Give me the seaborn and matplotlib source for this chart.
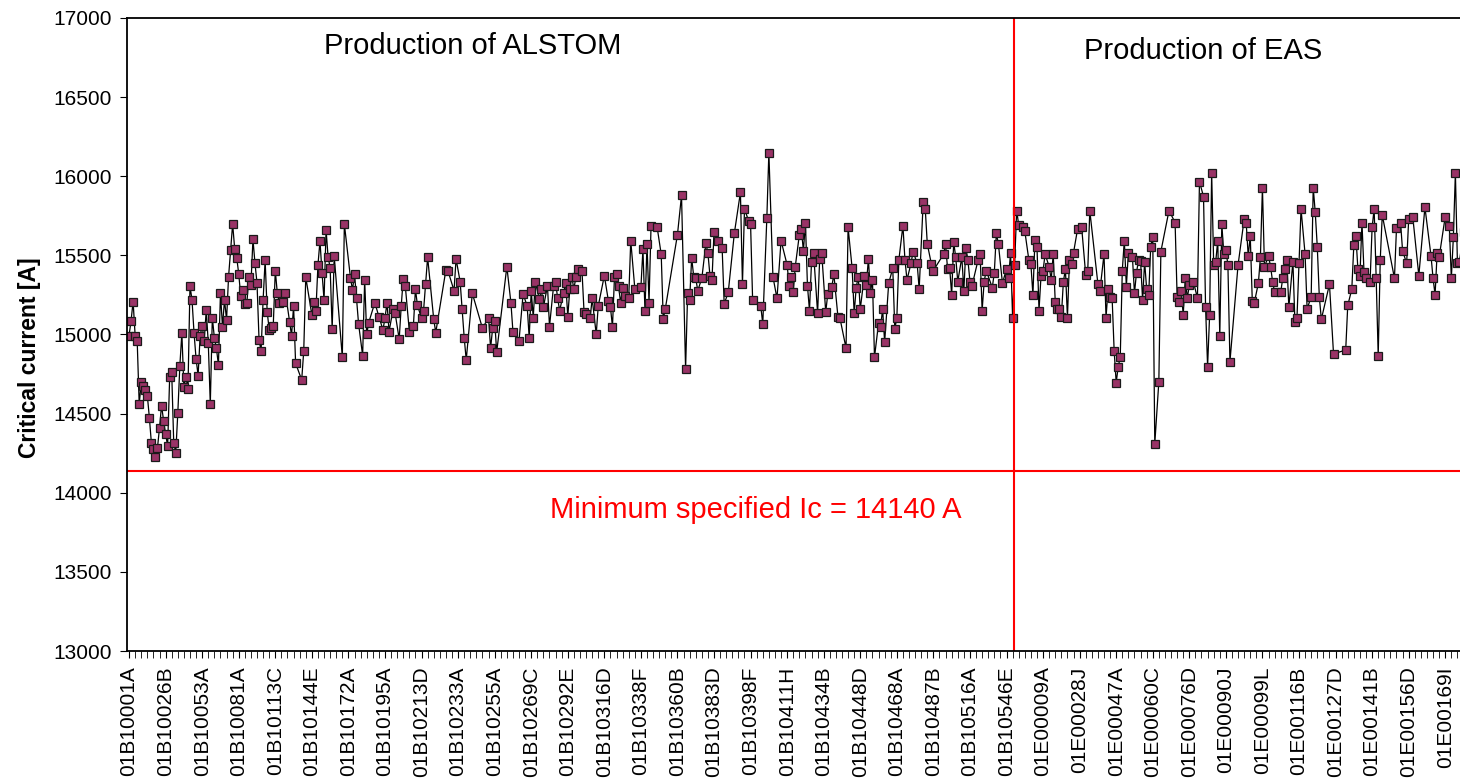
import numpy as np
import pandas as pd
import seaborn as sns
import matplotlib.pyplot as plt

# critical current [A] of each measured unit length, read off the chart,
# with its slot number on the category axis (empty slots are skipped and
# the line joins across them, as in the original spreadsheet chart)
alstom_ic = [
    14993, 15088, 15208, 14993, 14961, 14559, 14698, 14675, 14646, 14614,
    14475, 14313, 14275, 14224, 14285, 14410, 14551, 14456, 14370, 14296,
    14734, 14761, 14313, 14254, 14502, 14801, 15008, 14667, 14734, 14654,
    15307, 15218, 15008, 14846, 14740, 14993, 15054, 14961, 15153, 14949,
    14559, 15107, 14980, 14913, 14808, 15260, 15050, 15218, 15092, 15366,
    15534, 15698, 15543, 15486, 15383, 15240, 15282, 15193, 15197, 15366,
    15313, 15602, 15450, 15324, 14966, 14894, 15218, 15471, 15145, 15029,
    15039, 15056, 15404, 15260, 15197, 15208, 15265, 15081, 14993, 15180,
    14818, 14713, 14894, 15362, 15124, 15208, 15151, 15439, 15591, 15391,
    15218, 15661, 15488, 15423, 15035, 15496,
    14856, 15698, 15359, 15281, 15383, 15229, 15067, 14867, 15345, 15001,
    15075, 15201, 15113, 15029, 15103, 15201, 15018, 15159, 15134, 14970,
    15180, 15353, 15307, 15018, 15056, 15286, 15183, 15103, 15151, 15317,
    15488, 15096, 15012, 15408, 15402, 15277, 15477, 15334, 15161, 14980,
    14839, 15260, 15039, 15107, 14913, 15039, 15088, 14888, 15429, 15201,
    15018, 14961, 15256, 15180, 14980, 15277, 15107, 15334, 15223, 15286,
    15172, 15307, 15050, 15307, 15334, 15229, 15151, 15265, 15324, 15113,
    15286, 15366,
    15285, 15365, 15412, 15401, 15144, 15129, 15102, 15228, 15001, 15180,
    15372, 15212, 15172, 15049, 15365, 15382, 15306, 15201, 15292, 15245,
    15228, 15593, 15290, 15298, 15538, 15150, 15572, 15201, 15688, 15677,
    15506, 15096, 15161, 15631, 15879, 14780, 15260, 15218, 15485, 15365,
    15355, 15277, 15355, 15576, 15513, 15372, 15344, 15650, 15593, 15544,
    15193, 15266, 15639, 15898, 15317, 15793, 15719, 15696, 15218, 15180,
    15066, 15734, 16149, 15365, 15228, 15593, 15439, 15306, 15365,
    15267, 15429, 15629, 15667, 15528, 15707, 15307, 15151, 15460, 15517,
    15134, 15475, 15517, 15141, 15256, 15303, 15380, 15113, 15103, 14913,
    15677, 15418, 15134, 15296, 15366, 15161, 15370, 15313, 15477, 15265,
    15345, 14856, 15071, 15046, 15161, 14951, 15324, 15418, 15035, 15103,
    15471, 15688, 15471, 15345, 15450, 15524, 15450, 15286, 15840, 15793,
    15572, 15446, 15404, 15507, 15570, 15412, 15423, 15250, 15583, 15488,
    15334, 15488, 15277, 15545, 15471, 15334, 15307, 15471, 15507, 15151,
    15334, 15404, 15296, 15391, 15639, 15572, 15324, 15414, 15355, 15517,
    15107]
alstom_slot = [
    0, 1, 2, 3, 4, 5, 6, 7, 8, 9,
    10, 11, 12, 13, 14, 15, 16, 17, 18, 19,
    20, 21, 22, 23, 24, 25, 26, 27, 28, 29,
    30, 31, 32, 33, 34, 35, 36, 37, 38, 39,
    40, 41, 42, 43, 44, 45, 46, 47, 48, 49,
    50, 51, 52, 53, 54, 55, 56, 57, 58, 59,
    60, 61, 62, 63, 64, 65, 66, 67, 68, 69,
    70, 71, 72, 73, 74, 76, 77, 79, 80, 81,
    82, 85, 86, 87, 90, 91, 92, 93, 94, 95,
    96, 97, 98, 99, 100, 101,
    105, 106, 109, 110, 111, 112, 113, 115, 116, 117,
    118, 121, 123, 125, 126, 127, 128, 130, 131, 133,
    134, 135, 136, 138, 140, 141, 142, 144, 145, 146,
    147, 150, 151, 156, 157, 160, 161, 163, 164, 165,
    166, 169, 174, 177, 178, 179, 180, 181, 186, 188,
    189, 192, 194, 196, 197, 198, 199, 200, 202, 203,
    204, 206, 207, 209, 210, 211, 212, 214, 215, 216,
    217, 218,
    219, 220, 221, 223, 224, 225, 227, 228, 230, 231,
    234, 236, 237, 238, 239, 240, 241, 242, 243, 244,
    246, 247, 249, 252, 253, 254, 255, 256, 257, 260,
    262, 263, 264, 270, 272, 274, 275, 276, 277, 278,
    279, 280, 282, 284, 285, 286, 287, 288, 290, 292,
    293, 295, 298, 301, 302, 303, 305, 306, 307, 311,
    312, 314, 315, 317, 319, 321, 324, 325, 326,
    327, 328, 330, 331, 332, 333, 334, 335, 336, 337,
    339, 340, 341, 343, 344, 346, 347, 349, 350, 353,
    354, 356, 357, 358, 359, 360, 362, 363, 364, 365,
    366, 367, 369, 370, 371, 372, 374, 376, 377, 378,
    379, 381, 382, 383, 385, 386, 388, 389, 391, 392,
    393, 395, 396, 401, 402, 403, 404, 405, 406, 407,
    408, 410, 411, 412, 413, 414, 415, 418, 419, 420,
    421, 422, 425, 426, 427, 428, 430, 432, 433, 434,
    435]

eas_ic = [
    15439, 15783, 15692, 15677, 15654, 15471, 15446, 15250, 15597, 15555,
    15151, 15372, 15404, 15507, 15429, 15345, 15507, 15204, 15161, 15161,
    15113, 15334, 15412, 15107, 15471, 15446, 15517, 15667, 15677, 15376,
    15404, 15783, 15319, 15277, 15507, 15107, 15286, 15239, 15229, 14896,
    14696, 14797, 14856, 15404, 15593, 15303, 15517, 15488, 15260, 15391,
    15471, 15465, 15218, 15460, 15286, 15250, 15555, 15618, 14309, 14702,
    15524, 15783, 15707, 15239, 15208, 15277, 15124, 15355, 15229, 15313,
    15334, 15229, 15966, 15871, 15176, 14797, 15124, 16023, 15439, 15460,
    15593, 14991, 15698, 15507, 15534, 15439, 14827,
    15439, 15728, 15707, 15496, 15623, 15214, 15201, 15324, 15488, 15928,
    15429, 15496, 15429, 15334, 15267, 15267, 15355, 15412, 15471, 15172,
    15460, 15077, 15103, 15450, 15793, 15507, 15161, 15239, 15928, 15772,
    15555, 15239, 15096, 15317, 14877, 14902, 15183, 15286, 15566, 15623,
    15414, 15370, 15707, 15397, 15355, 15334, 15677, 15793, 15355, 14864,
    15471, 15755, 15355, 15671, 15707, 15528, 15450, 15728, 15745, 15372,
    15804, 15496, 15355, 15250, 15513, 15488, 15745, 15686, 15355, 15614,
    16023, 15450, 15460, 15650]
eas_slot = [
    436, 437, 438, 440, 441, 443, 444, 445, 446, 447,
    448, 449, 450, 451, 453, 454, 455, 456, 457, 458,
    459, 460, 461, 462, 463, 464, 465, 467, 469, 471,
    472, 473, 477, 478, 480, 481, 482, 483, 484, 485,
    486, 487, 488, 489, 490, 491, 492, 494, 495, 496,
    497, 498, 499, 500, 501, 502, 503, 504, 505, 507,
    508, 512, 515, 516, 517, 518, 519, 520, 521, 522,
    524, 526, 527, 529, 530, 531, 532, 533, 534, 535,
    536, 537, 538, 539, 540, 541, 542,
    546, 549, 550, 551, 552, 553, 554, 556, 557, 558,
    559, 561, 562, 563, 564, 567, 568, 569, 570, 571,
    573, 574, 575, 576, 577, 579, 580, 582, 583, 584,
    585, 586, 587, 591, 593, 599, 600, 602, 603, 604,
    605, 606, 607, 608, 609, 611, 612, 613, 614, 615,
    616, 617, 623, 624, 626, 627, 629, 630, 632, 635,
    638, 641, 642, 643, 644, 645, 648, 650, 651, 652,
    653, 654, 655, 657]

tick_names = ["01B10001A", "01B10026B", "01B10053A", "01B10081A", "01B10113C",
              "01B10144E", "01B10172A", "01B10195A", "01B10213D", "01B10233A",
              "01B10255A", "01B10269C", "01B10292E", "01B10316D", "01B10338F",
              "01B10360B", "01B10383D", "01B10398F", "01B10411H", "01B10434B",
              "01B10448D", "01B10468A", "01B10487B", "01B10516A", "01B10546E",
              "01E00009A", "01E00028J", "01E00047A", "01E00060C", "01E00076D",
              "01E00090J", "01E00099L", "01E00116B", "01E00127D", "01E00141B",
              "01E00156D", "01E00169I"]
min_ic = 14140
label_step = 18      # one label every 18 slots
mark_step = 3        # one tick mark every 3 slots
first_eas_slot = 436
n_slots = 661

assert len(alstom_ic) == len(alstom_slot)
assert len(eas_ic) == len(eas_slot)

df = pd.DataFrame({"slot": alstom_slot + eas_slot, "ic": alstom_ic + eas_ic})

plt.rcParams['font.family'] = ['Liberation Sans', 'DejaVu Sans']
fig = plt.figure(figsize=(14.6, 7.79), dpi=100)
# the original picture is cropped on the right, so the axes run past the edge
ax = fig.add_axes([0.087, 0.1643, 0.92, 0.8127])

sns.lineplot(data=df, x="slot", y="ic", ax=ax, estimator=None, color="black",
             linewidth=0.9, marker="s", markersize=5.2,
             markerfacecolor="#993366", markeredgecolor="#1a1a1a",
             markeredgewidth=0.9)

ax.axhline(min_ic, color="red", linewidth=1.5)
ax.axvline(first_eas_slot - 0.5, color="red", linewidth=1.5)

ax.set_xlim(-1, n_slots - 0.7)
ax.set_ylim(13000, 17000)
ax.set_yticks(np.arange(13000, 17001, 500))
ax.set_xticks(np.arange(len(tick_names)) * label_step)
ax.set_xticklabels(tick_names, rotation=90, va="top", ha="center")
ax.set_xticks(np.arange(0, n_slots, mark_step), minor=True)
ax.tick_params(axis="both", labelsize=15, length=5, direction="out", colors="black")
ax.tick_params(axis="x", which="minor", length=5)
ax.tick_params(axis="x", pad=6)
ax.tick_params(axis="y", pad=6)
ax.set_xlabel("")
ax.set_ylabel("Critical current [A]", fontsize=16.5, fontweight="bold")
ax.yaxis.set_label_coords(-0.064, 0.464)
for s in ax.spines.values():
    s.set_color("black")
    s.set_linewidth(1.3)

ax.text(0.2575, 0.955, "Production of ALSTOM", transform=ax.transAxes,
        fontsize=21, ha="center", va="center")
ax.text(0.801, 0.948, "Production of EAS", transform=ax.transAxes,
        fontsize=21, ha="center", va="center")
ax.text(0.4678, 0.222, "Minimum specified Ic = 14140 A", transform=ax.transAxes,
        fontsize=21, ha="center", va="center", color="red")

fig.savefig("out.png", dpi=100, facecolor="white")
